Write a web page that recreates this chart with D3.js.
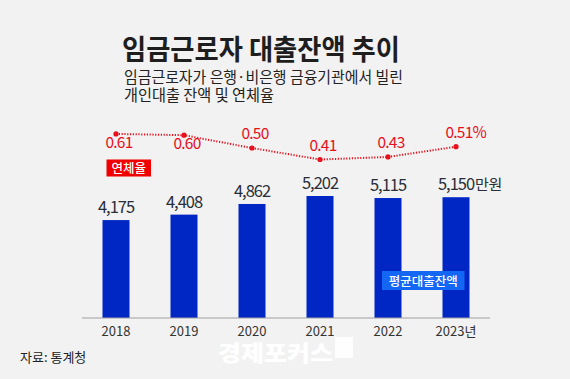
<!DOCTYPE html>
<html><head><meta charset="utf-8">
<script src="https://cdn.jsdelivr.net/npm/d3@7"></script>
<style>
html,body{margin:0;padding:0;background:#f2f2f2;}
svg{display:block;font-family:"Noto Sans CJK KR","Noto Sans",sans-serif;}
</style></head>
<body>
<svg id="c" width="570" height="379"></svg>
<script>
const years = ["2018","2019","2020","2021","2022","2023"];
const yearLabels = ["2018","2019","2020","2021","2022","2023년"];
const loanBalance = [4175, 4408, 4862, 5202, 5115, 5150];
const delinquencyRate = [0.61, 0.60, 0.50, 0.41, 0.43, 0.51];
const ratePos = ["below","below","above","above","above","above"];

const svg = d3.select("#c");
svg.append("rect").attr("width",570).attr("height",379).attr("fill","#f2f2f2");

// Title & subtitle
svg.append("text").attr("x",122).attr("y",60).attr("font-size",28).attr("font-weight",700)
  .attr("fill","#1e1e1e").attr("textLength",278).attr("lengthAdjust","spacingAndGlyphs")
  .text("임금근로자 대출잔액 추이");
svg.append("text").attr("x",124).attr("y",83).attr("font-size",15.5).attr("fill","#222")
  .attr("textLength",279).attr("lengthAdjust","spacingAndGlyphs")
  .text("임금근로자가 은행·비은행 금융기관에서 빌린");
svg.append("text").attr("x",124).attr("y",101).attr("font-size",15.5).attr("fill","#222")
  .attr("textLength",150).attr("lengthAdjust","spacingAndGlyphs")
  .text("개인대출 잔액 및 연체율");

const x = d3.scaleBand().domain(years).range([82,490]).paddingInner(0.6).paddingOuter(0.3);
const y = d3.scaleLinear().domain([0,5202]).range([318,196]);
const y2 = d3.scaleLinear().domain([0,1]).range([212,84]);

// bars
svg.selectAll("rect.bar").data(years).join("rect").attr("class","bar")
  .attr("x",d=>x(d)+x.bandwidth()/2-13.5).attr("width",27)
  .attr("y",(d,i)=>y(loanBalance[i])).attr("height",(d,i)=>318-y(loanBalance[i]))
  .attr("fill","#0027c4");

// bar labels
const fmt = d3.format(",");
years.forEach((d,i)=>{
  const cx = x(d)+x.bandwidth()/2;
  const t = svg.append("text").attr("x",cx).attr("y",y(loanBalance[i])-7)
    .attr("font-size",16.5).attr("fill","#2a2e38").attr("letter-spacing",-1)
    .attr("text-anchor","middle").text(fmt(loanBalance[i]));
  if(i===years.length-1){
    const w = t.node().getComputedTextLength();
    svg.append("text").attr("x",cx+w/2+1).attr("y",y(loanBalance[i])-7)
      .attr("font-size",15).attr("fill","#2a2e38").attr("letter-spacing",-0.5).text("만원");
  }
});

// axis
const axis = svg.append("g").attr("transform","translate(0,318)")
  .call(d3.axisBottom(x).tickSize(0).tickPadding(9).tickFormat((d,i)=>yearLabels[i]));
axis.select(".domain").attr("stroke","#a0a0a0").attr("stroke-width",1.2)
  .attr("d","M82,0H490");
axis.selectAll("text").attr("font-size",13).attr("fill","#333")
  .attr("font-family","'Noto Sans CJK KR',sans-serif");

// line
const line = d3.line().x((d,i)=>x(years[i])+x.bandwidth()/2).y(d=>y2(d));
svg.append("path").datum(delinquencyRate).attr("d",line).attr("fill","none")
  .attr("stroke","#e8101c").attr("stroke-width",2).attr("stroke-dasharray","1.2,1.6");
svg.selectAll("circle.pt").data(delinquencyRate).join("circle").attr("class","pt")
  .attr("cx",(d,i)=>x(years[i])+x.bandwidth()/2).attr("cy",d=>y2(d)).attr("r",2.6)
  .attr("fill","#e8101c");

delinquencyRate.forEach((v,i)=>{
  const cx = x(years[i])+x.bandwidth()/2 + 3;
  const yy = ratePos[i]==="below" ? y2(v)+14 : y2(v)-9;
  const t = svg.append("text").attr("x",cx).attr("y",yy).attr("font-size",15.5)
    .attr("fill","#e8101c").attr("letter-spacing",-0.8).attr("text-anchor","middle")
    .text(v.toFixed(2));
  if(i===delinquencyRate.length-1){
    const w = t.node().getComputedTextLength();
    svg.append("text").attr("x",cx+w/2).attr("y",yy).attr("font-size",15.5)
      .attr("fill","#e8101c").text("%");
  }
});

// legend boxes
svg.append("rect").attr("x",106.5).attr("y",159.5).attr("width",44.5).attr("height",17).attr("fill","#f00000");
svg.append("text").attr("x",128.7).attr("y",173).attr("text-anchor","middle").attr("font-size",12.5)
  .attr("fill","#fff").attr("font-weight",500).text("연체율");
svg.append("rect").attr("x",382).attr("y",271).attr("width",82.5).attr("height",19).attr("fill","#1466f5");
svg.append("text").attr("x",423.3).attr("y",285.5).attr("text-anchor","middle").attr("font-size",12.5)
  .attr("fill","#fff").attr("font-weight",500).text("평균대출잔액");

// source
svg.append("text").attr("x",20).attr("y",362).attr("font-size",13).attr("fill","#222").text("자료: 통계청");

// watermark
svg.append("text").attr("x",218).attr("y",361).attr("font-size",22).attr("font-weight",900)
  .attr("fill","#ffffff").attr("textLength",115).attr("lengthAdjust","spacingAndGlyphs").text("경제포커스");
svg.append("rect").attr("x",335).attr("y",337).attr("width",18).attr("height",21).attr("fill","#ffffff").attr("opacity",0.9);
</script>
</body></html>
